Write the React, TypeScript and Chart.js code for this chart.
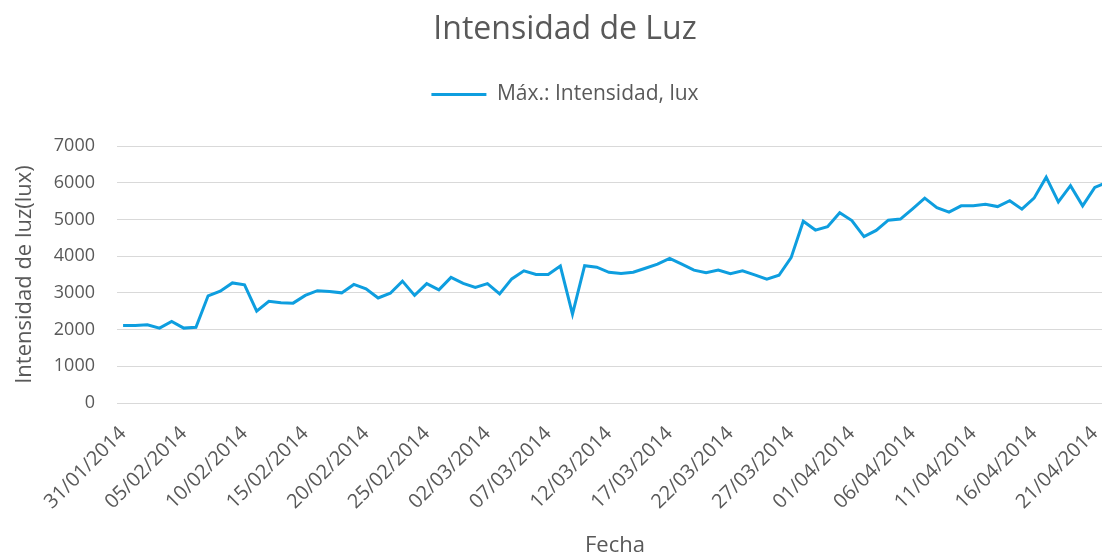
import React, { useEffect, useRef } from "react";
import { Chart, registerables } from "chart.js";

Chart.register(...registerables);

// Daily dates from 31/01/2014 to 22/04/2014
const startDate = new Date(2014, 0, 31);
const dates: string[] = Array.from({ length: 82 }, (_, i) => {
  const d = new Date(startDate.getFullYear(), startDate.getMonth(), startDate.getDate() + i);
  const dd = String(d.getDate()).padStart(2, "0");
  const mm = String(d.getMonth() + 1).padStart(2, "0");
  return `${dd}/${mm}/${d.getFullYear()}`;
});

// Máx.: Intensidad, lux (one value per day)
const maxIntensity: number[] = [
  2110, 2110, 2130, 2040, 2220, 2040, 2060, 2920, 3045, 3270,
  3220, 2500, 2770, 2730, 2720, 2930, 3060, 3040, 3000, 3230,
  3110, 2860, 2990, 3320, 2930, 3250, 3080, 3420, 3260, 3150,
  3250, 2970, 3380, 3600, 3500, 3500, 3730, 2420, 3740, 3700,
  3560, 3530, 3560, 3670, 3780, 3940, 3780, 3620, 3550, 3620,
  3520, 3600, 3490, 3370, 3480, 3960, 4950, 4710, 4800, 5180,
  4970, 4530, 4700, 4980, 5010, 5290, 5580, 5320, 5200, 5370,
  5370, 5410, 5350, 5510, 5280, 5580, 6150, 5480, 5920, 5370,
  5870, 6010,
];

// Indices of the dates shown as x tick labels (every 5 days)
const xTickIndices: number[] = [0, 5, 10, 15, 20, 25, 30, 35, 40, 45, 50, 55, 60, 65, 70, 75, 80];
const yTicks: number[] = [0, 1000, 2000, 3000, 4000, 5000, 6000, 7000];

const TEXT = "#595959";
const LINE = "#0E9EDF";
const GRID = "#D9D9D9";
const FONT = "'Open Sans', sans-serif";

// Adds empty space below the legend (between legend and plot area)
const legendSpacer = {
  id: "legendSpacer",
  beforeLayout(chart: any) {
    const legend = chart.legend;
    if (!legend || legend.__spaced) return;
    const origFit = legend.fit;
    legend.fit = function () {
      origFit.call(this);
      this.height += 31;
    };
    legend.__spaced = true;
  },
};

export default function App() {
  const ref = useRef<HTMLCanvasElement | null>(null);

  useEffect(() => {
    if (!ref.current) return;
    const chart = new Chart(ref.current, {
      type: "line",
      data: {
        datasets: [
          {
            label: "Máx.: Intensidad, lux",
            data: maxIntensity.map((v, i) => ({ x: i, y: v })),
            borderColor: LINE,
            backgroundColor: LINE,
            borderWidth: 3,
            pointRadius: 0,
            tension: 0,
            fill: false,
          },
        ],
      },
      plugins: [legendSpacer],
      options: {
        animation: false,
        responsive: false,
        layout: { padding: { left: 0, right: 0, top: 0, bottom: 0 } },
        plugins: {
          title: {
            display: true,
            text: "Intensidad de Luz",
            color: TEXT,
            font: { family: FONT, size: 32, weight: "normal", lineHeight: 1 },
            padding: { top: 14, bottom: -4 },
          },
          legend: {
            display: true,
            position: "top",
            labels: {
              color: TEXT,
              font: { family: FONT, size: 21 },
              usePointStyle: true,
              pointStyle: "line",
              pointStyleWidth: 55,
              padding: 42,
            },
          },
          tooltip: { enabled: false },
        },
        scales: {
          x: {
            type: "linear",
            min: -0.5,
            max: 81.5,
            afterBuildTicks: (axis: any) => {
              axis.ticks = xTickIndices.map((v) => ({ value: v }));
            },
            afterFit: (axis: any) => {
              axis.height = 152;
              axis.paddingRight = 17;
            },
            ticks: {
              autoSkip: false,
              minRotation: 45,
              maxRotation: 45,
              padding: 19,
              color: TEXT,
              font: { family: FONT, size: 20 },
              callback: (value: any) => dates[Number(value)] ?? "",
            },
            grid: { display: false, drawTicks: false },
            border: { display: false },
            title: {
              display: true,
              text: "Fecha",
              color: TEXT,
              font: { family: FONT, size: 22, lineHeight: 1 },
              padding: { top: 0, bottom: -2 },
            },
          },
          y: {
            min: 0,
            max: 7000,
            afterBuildTicks: (axis: any) => {
              axis.ticks = yTicks.map((v) => ({ value: v }));
            },
            afterFit: (axis: any) => {
              axis.width = 117;
            },
            ticks: {
              padding: 22,
              color: TEXT,
              font: { family: FONT, size: 18 },
              callback: (value: any) => String(value),
            },
            grid: { color: GRID, lineWidth: 1, drawTicks: false },
            border: { display: false },
            title: {
              display: true,
              text: "Intensidad de luz(lux)",
              color: TEXT,
              font: { family: FONT, size: 22, lineHeight: 1 },
              padding: { top: 14, bottom: 0 },
            },
          },
        },
      },
    });
    return () => chart.destroy();
  }, []);

  return (
    <div
      style={{
        position: "fixed",
        left: 0,
        top: 0,
        width: 1102,
        height: 555,
        overflow: "hidden",
        background: "#fff",
      }}
    >
      <canvas ref={ref} width={1130} height={555} style={{ display: "block" }} />
    </div>
  );
}
